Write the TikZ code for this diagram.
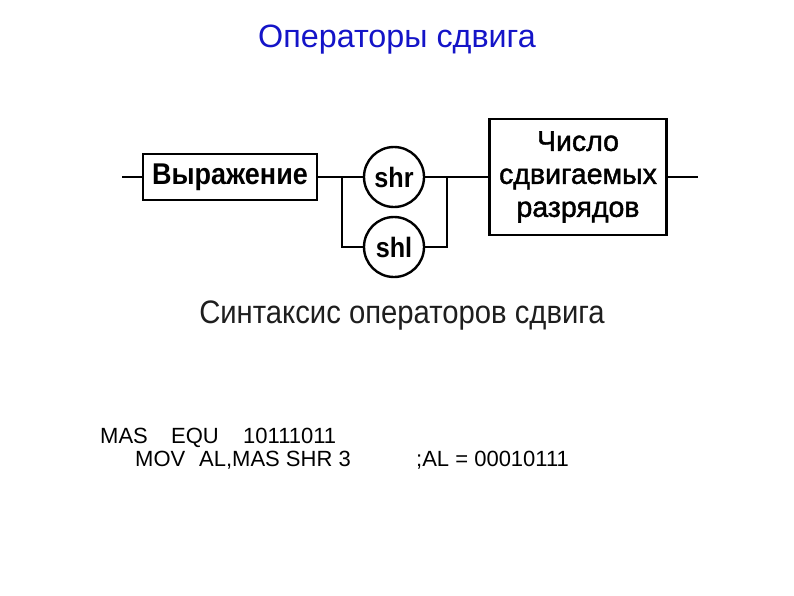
\documentclass[tikz,border=0pt]{standalone}
\usepackage{fontspec}
\setmainfont{Liberation Sans}
\newfontfamily\scanfont[FakeStretch=0.9]{Liberation Sans}
\definecolor{titleblue}{RGB}{20,20,200}
\definecolor{scangray}{RGB}{30,30,30}
\begin{document}
\begin{tikzpicture}[x=1pt, y=-1pt, line width=2.4pt,
  every node/.append style={inner sep=0pt},
  termbox/.style={draw, rectangle, align=center},
  opcircle/.style={draw, circle, minimum size=60pt, font=\scanfont\bfseries\fontsize{28}{28}\selectfont},
  codeline/.style={anchor=base west, font=\fontsize{22}{26}\selectfont}]
  \useasboundingbox (0,0) rectangle (794,595);
  % заголовок
  \node[text=titleblue, font=\fontsize{32.3}{36}\selectfont] (title) at (397,40) {Операторы сдвига};
  % синтаксическая диаграмма
  \node[termbox, minimum width=174pt, minimum height=46pt, font=\scanfont\bfseries\fontsize{30}{33}\selectfont] (expr) at (230,177) {Выражение};
  \node[opcircle] (shr) at (394,177) {shr};
  \node[opcircle] (shl) at (394,247) {shl};
  \node[termbox, minimum width=177pt, minimum height=116pt, font=\fontsize{28.5}{33}\selectfont\addfontfeature{FakeBold=1.5}] (num) at (578,177) {Число\\сдвигаемых\\разрядов};
  \coordinate (in) at (122,177);
  \coordinate (bl) at (342,177);
  \coordinate (br) at (447,177);
  \coordinate (out) at (698,177);
  \draw (in) -- (expr);
  \draw (expr) -- (shr);
  \draw (bl) |- (shl);
  \draw (shr) -- (br);
  \draw (shl) -| (br);
  \draw (br) -- (num);
  \draw (num) -- (out);
  \node[text=scangray, font=\scanfont\fontsize{32.5}{36}\selectfont] (caption) at (402,316) {Синтаксис операторов сдвига};
  % пример
  \node[codeline] (mas) at (99,443) {MAS};
  \node[codeline] (equ) at (170,443) {EQU};
  \node[codeline] (val) at (242,443) {10111011};
  \node[codeline] (mov) at (134,466) {MOV};
  \node[codeline] (arg) at (198,466) {AL,MAS SHR 3};
  \node[codeline] (res) at (415,466) {;AL = 00010111};
\end{tikzpicture}
\end{document}
